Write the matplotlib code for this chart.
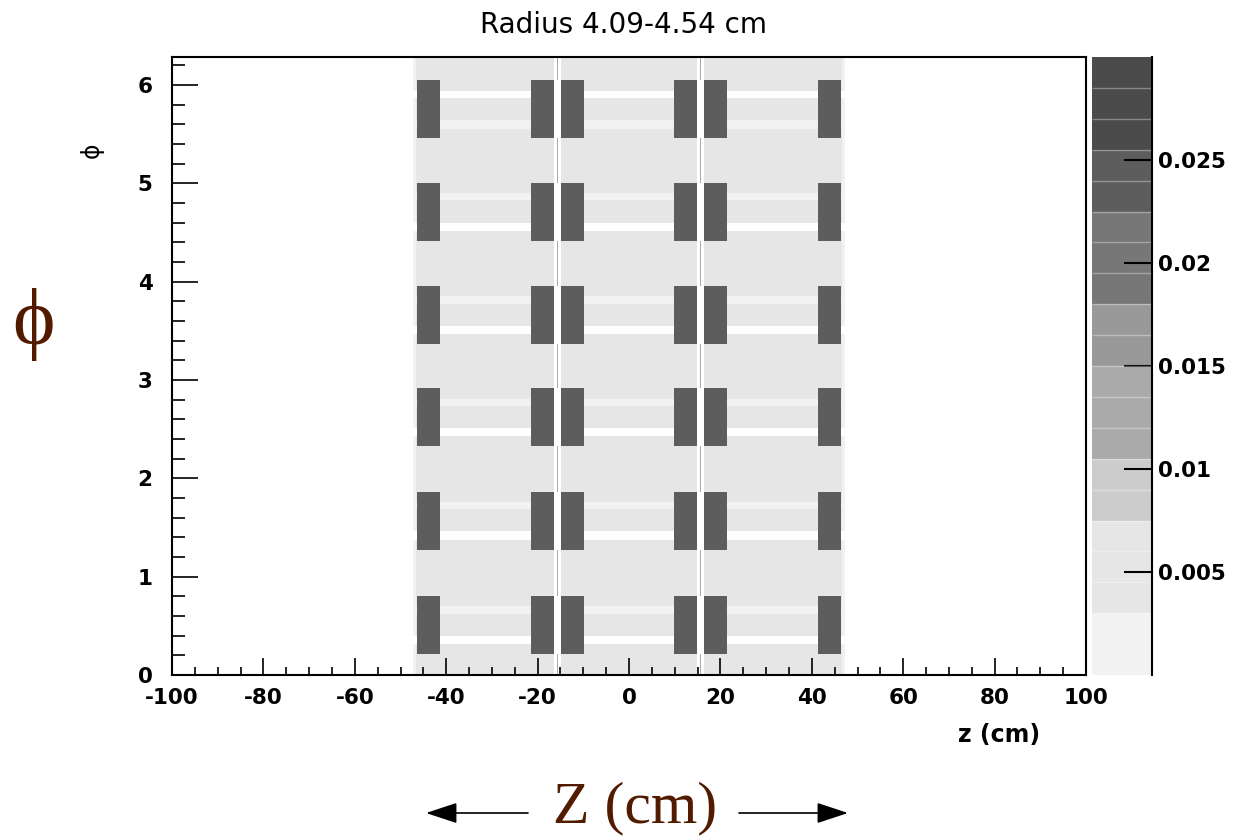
import numpy as np
import matplotlib
matplotlib.use('Agg')
import matplotlib.pyplot as plt
from matplotlib.colors import ListedColormap, BoundaryNorm
from matplotlib.ticker import MultipleLocator

plt.rcParams['axes.unicode_minus'] = False

## material map, radius 4.09-4.54 cm
title = 'Radius 4.09-4.54 cm'
chip_z_lo = [-46.4, -21.4, -14.9, 9.9, 16.4, 41.4]
chip_z_hi = [-41.4, -16.4, -9.9, 14.9, 21.4, 46.4]
row_phi = [0.51, 1.57, 2.62, 3.66, 4.71, 5.75]
row_half = 0.295
ladder_half = 47.3
edge_inner = 46.6
gap_lo, gap_hi = 14.9, 16.4
seam_lo, seam_hi = 15.5, 15.8
stripe_up = (0.115, 0.19)
stripe_dn = (-0.195, -0.11)
white_upper = [False, False, False, False, False, True]

val_bg = 0.005
val_chip = 0.024
val_edge = 0.0025
val_stripe = 0.002
val_seam = 0.011

levels = np.linspace(0, 0.03, 21)
band_colors = ['#f2f2f2', '#f2f2f2', '#e6e6e6', '#e6e6e6', '#e6e6e6',
               '#cccccc', '#cccccc', '#aaaaaa', '#aaaaaa', '#aaaaaa',
               '#999999', '#999999', '#777777', '#777777', '#777777',
               '#5d5d5d', '#5d5d5d', '#4b4b4b', '#4b4b4b', '#4b4b4b']
cbar_ticks = [0.005, 0.01, 0.015, 0.02, 0.025]
cbar_labels = ['0.005', '0.01', '0.015', '0.02', '0.025']

#### build the bin grid
zb = [-100, 100, ladder_half, -ladder_half, edge_inner, -edge_inner,
      gap_lo, gap_hi, -gap_lo, -gap_hi, seam_lo, seam_hi, -seam_lo, -seam_hi]
zb += chip_z_lo + chip_z_hi
z_edges = np.array(sorted(set(zb)))
pb = [0, 2 * np.pi]
for c in row_phi:
    pb += [c - row_half, c + row_half, c + stripe_up[0], c + stripe_up[1],
           c + stripe_dn[0], c + stripe_dn[1]]
phi_edges = np.array(sorted(set(pb)))

zc = 0.5 * (z_edges[1:] + z_edges[:-1])
pc = 0.5 * (phi_edges[1:] + phi_edges[:-1])
V = np.zeros((len(pc), len(zc)))
for j, p in enumerate(pc):
    row = None
    for k, c in enumerate(row_phi):
        if abs(p - c) < row_half:
            row = k
    for i, z in enumerate(zc):
        az = abs(z)
        if az > ladder_half:
            continue
        if gap_lo < az < gap_hi:
            if row is None and seam_lo < az < seam_hi:
                V[j, i] = val_seam
            continue
        v = val_edge if az > edge_inner else val_bg
        if row is not None:
            d = p - row_phi[row]
            in_chip = any(lo < z < hi for lo, hi in zip(chip_z_lo, chip_z_hi))
            if in_chip:
                v = val_chip
            elif stripe_up[0] < d < stripe_up[1]:
                v = 0 if white_upper[row] else val_stripe
            elif stripe_dn[0] < d < stripe_dn[1]:
                v = val_stripe if white_upper[row] else 0
        V[j, i] = v
V = np.ma.masked_equal(V, 0)

#### plot
W, H = 1238, 836
fig = plt.figure(figsize=(W / 100, H / 100), dpi=100)
ax = fig.add_axes([172 / W, 1 - 675 / H, (1086 - 172) / W, (675 - 57) / H])
cax = fig.add_axes([1092 / W, 1 - 675 / H, (1152 - 1092) / W, (675 - 57) / H])

cmap = ListedColormap(band_colors)
cmap.set_bad('white')
norm = BoundaryNorm(levels, cmap.N)
mesh = ax.pcolormesh(z_edges, phi_edges, V, cmap=cmap, norm=norm, shading='flat')

ax.set_xlim(-100, 100)
ax.set_ylim(0, 2 * np.pi)
ax.xaxis.set_major_locator(MultipleLocator(20))
ax.xaxis.set_minor_locator(MultipleLocator(5))
ax.yaxis.set_major_locator(MultipleLocator(1))
ax.yaxis.set_minor_locator(MultipleLocator(0.2))
ax.tick_params(which='both', direction='in', top=False, right=False, width=1.2)
ax.tick_params(axis='x', which='major', length=12, pad=9)
ax.tick_params(axis='x', which='minor', length=6)
ax.tick_params(axis='y', which='major', length=19, pad=14)
ax.tick_params(axis='y', which='minor', length=9)
for lab in ax.get_xticklabels() + ax.get_yticklabels():
    lab.set_fontsize(15.5)
    lab.set_fontweight('bold')
for s in ax.spines.values():
    s.set_linewidth(1.5)

cb = fig.colorbar(mesh, cax=cax, ticks=cbar_ticks, drawedges=True)
cb.outline.set_visible(False)
cb.dividers.set_color('white')
cb.dividers.set_alpha(0.35)
cb.dividers.set_linewidth(1)
cb.set_ticklabels(cbar_labels)
cax.minorticks_off()
cax.tick_params(direction='in', length=20, width=1.5, pad=4, labelsize=15.5)
for lab in cax.get_yticklabels():
    lab.set_fontweight('bold')
cax.plot([1, 1], [0, 1], transform=cax.transAxes, color='black', lw=1.5, clip_on=False)

fig.text(623 / W, 1 - 25 / H, title, ha='center', va='center', fontsize=20)
fig.text(1040 / W, 1 - 735 / H, 'z (cm)', ha='right', va='center', fontsize=17, fontweight='bold')
fig.text(92 / W, 1 - 150 / H, 'ϕ', ha='center', va='center', fontsize=17, rotation=90,
         family=['DejaVu Sans'])

# slide annotations
brown = '#521b00'
fig.text(33 / W, 1 - 325 / H, 'ϕ', ha='center', va='center', fontsize=58,
         family=['Liberation Serif', 'DejaVu Serif'], color=brown)
fig.text(635 / W, 1 - 808 / H, 'Z (cm)', ha='center', va='center', fontsize=43,
         family='Liberation Serif', color=brown)
arrow = dict(arrowstyle='-|>,head_length=0.97,head_width=0.32', mutation_scale=20,
             lw=1.2, color='black', shrinkA=0, shrinkB=0)
fig.add_artist(matplotlib.patches.FancyArrowPatch((528 / W, 1 - 813 / H), (426 / W, 1 - 813 / H),
                                                  transform=fig.transFigure, **arrow))
fig.add_artist(matplotlib.patches.FancyArrowPatch((739 / W, 1 - 813 / H), (848 / W, 1 - 813 / H),
                                                  transform=fig.transFigure, **arrow))

fig.savefig('out.png', dpi=100)
